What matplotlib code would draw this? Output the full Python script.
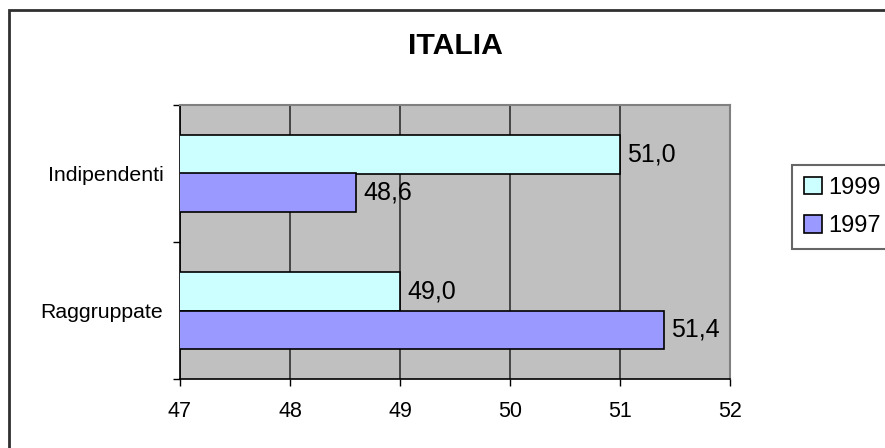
import matplotlib
matplotlib.use("Agg")
import matplotlib.pyplot as plt
from matplotlib.patches import Rectangle

plt.rcParams['font.family'] = ['Liberation Sans', 'DejaVu Sans']

categories = ['Raggruppate', 'Indipendenti']
values_1999 = [49.0, 51.0]
values_1997 = [51.4, 48.6]
series_names = ['1999', '1997']
x_ticks = [47, 48, 49, 50, 51, 52]

color_1999 = '#CCFFFF'
color_1997 = '#9999FF'

fig = plt.figure(figsize=(8.85, 4.48), dpi=100)
ax = fig.add_axes([180 / 885, 1 - 379 / 448, 550 / 885, 274 / 448])
ax.set_facecolor('#C0C0C0')

h = 0.28
pos = list(range(len(categories)))
b1 = ax.barh([p + h / 2 for p in pos], values_1999, height=h, left=0,
             color=color_1999, edgecolor='black', linewidth=1.2, zorder=3,
             label=series_names[0])
b2 = ax.barh([p - h / 2 for p in pos], values_1997, height=h, left=0,
             color=color_1997, edgecolor='black', linewidth=1.2, zorder=3,
             label=series_names[1])

for bars, vals in ((b1, values_1999), (b2, values_1997)):
    for bar, v in zip(bars, vals):
        ax.annotate(f'{v:.1f}'.replace('.', ','),
                    (v, bar.get_y() + bar.get_height() / 2),
                    xytext=(5, 0), textcoords='offset points',
                    ha='left', va='center', fontsize=18, zorder=4)

ax.set_xlim(47, 52)
ax.set_ylim(-0.5, 1.5)
ax.set_xticks(x_ticks)
ax.set_xticklabels([str(t) for t in x_ticks], fontsize=15.5)
ax.xaxis.grid(True, color='#303030', linewidth=1.2, zorder=1)
ax.set_axisbelow(True)

ax.set_yticks([-0.5, 0.5, 1.5])
ax.set_yticklabels([])
ax.set_yticks(pos, minor=True)
ax.set_yticklabels(categories, minor=True, fontsize=15.3)
ax.tick_params(axis='y', which='minor', length=0, pad=12)
ax.tick_params(axis='y', which='major', length=5, width=1, direction='out')
ax.tick_params(axis='x', length=5, width=1, direction='out', pad=11)

for s in ('top', 'right'):
    ax.spines[s].set_color('#808080')
    ax.spines[s].set_linewidth(1.5)
for s in ('left', 'bottom'):
    ax.spines[s].set_color('black')
    ax.spines[s].set_linewidth(1.2)

fig.text(455 / 885, 1 - 46 / 448, 'ITALIA', ha='center', va='center',
         fontsize=21.7, fontweight='bold')

leg = fig.legend(loc='upper left', bbox_to_anchor=(792 / 885, 1 - 165 / 448),
                 fontsize=17, frameon=True, fancybox=False,
                 handlelength=0.75, handleheight=0.75, handletextpad=0.3,
                 labelspacing=0.7, borderpad=0.5, borderaxespad=0)
leg.get_frame().set_edgecolor('#404040')
leg.get_frame().set_linewidth(1.5)

fig.patches.append(Rectangle((9 / 885, -0.1), 1.2, 1.1 - 10 / 448,
                             transform=fig.transFigure, fill=False,
                             edgecolor='#303030', linewidth=2))

fig.savefig('out.png', dpi=100)
